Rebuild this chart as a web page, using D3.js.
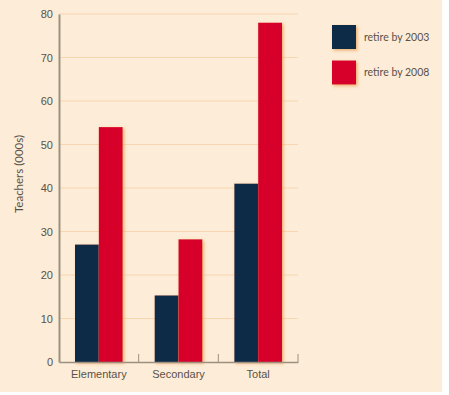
<!DOCTYPE html>
<html>
<head>
<meta charset="utf-8">
<script src="https://cdn.jsdelivr.net/npm/d3@7"></script>
<style>
  body { margin: 0; background: #fff; }
  svg { display: block; font-family: Lato, "Open Sans", sans-serif; }
</style>
</head>
<body>
<script>
var categories = ['Elementary', 'Secondary', 'Total'];
var seriesNames = ['retire by 2003', 'retire by 2008'];
var retire2003 = [27, 15.3, 41];
var retire2008 = [54, 28.2, 78];
var yTicks = [0, 10, 20, 30, 40, 50, 60, 70, 80];
var colors = ['#0b2c47', '#d6002a'];

var width = 449, height = 395;
var margin = {left: 59, right: 151, top: 14, bottom: 33};

var svg = d3.select('body').append('svg')
  .attr('width', width)
  .attr('height', height);

var defs = svg.append('defs');
var f = defs.append('filter').attr('id', 'shadow')
  .attr('x', '-20%').attr('y', '-10%').attr('width', '150%').attr('height', '130%');
f.append('feDropShadow')
  .attr('dx', 1.5).attr('dy', 1.5).attr('stdDeviation', 1.5)
  .attr('flood-color', '#e07a20').attr('flood-opacity', 0.55);

// panel
svg.append('rect')
  .attr('x', 0).attr('y', 0)
  .attr('width', 442).attr('height', 392)
  .attr('fill', '#fdecd7');

var x = d3.scaleBand()
  .domain(categories)
  .range([margin.left, width - margin.right])
  .padding(0);

var y = d3.scaleLinear()
  .domain([0, 80])
  .range([height - margin.bottom, margin.top]);

var inner = d3.scaleBand()
  .domain([0, 1])
  .range([16, x.bandwidth() - 16]);

// gridlines
svg.append('g').selectAll('line')
  .data(yTicks.filter(d => d > 0))
  .enter().append('line')
  .attr('x1', margin.left).attr('x2', width - margin.right)
  .attr('y1', d => y(d)).attr('y2', d => y(d))
  .attr('stroke', '#f8d6b0')
  .attr('stroke-width', 1);

// bars
var rows = categories.map((c, i) => ({cat: c, vals: [retire2003[i], retire2008[i]]}));
var groups = svg.append('g').selectAll('g')
  .data(rows)
  .enter().append('g')
  .attr('transform', d => 'translate(' + x(d.cat) + ',0)');

groups.selectAll('rect')
  .data(d => d.vals.map((v, k) => ({k: k, v: v})))
  .enter().append('rect')
  .attr('x', d => inner(d.k))
  .attr('width', inner.bandwidth())
  .attr('y', d => y(d.v))
  .attr('height', d => y(0) - y(d.v))
  .attr('fill', d => colors[d.k])
  .attr('filter', 'url(#shadow)');

// y axis
var yAxis = svg.append('g')
  .attr('transform', 'translate(' + margin.left + ',0)')
  .call(d3.axisLeft(y).tickValues(yTicks).tickSize(0).tickPadding(6));
yAxis.select('.domain').attr('stroke', '#9c9181').attr('stroke-width', 2);
yAxis.selectAll('text').attr('fill', '#5a5248').attr('font-size', 11);

// x axis
var xAxis = svg.append('g')
  .attr('transform', 'translate(0,' + y(0) + ')')
  .call(d3.axisBottom(x).tickSize(0).tickPadding(8));
xAxis.select('.domain').attr('stroke', '#9c9181').attr('stroke-width', 1.5);
xAxis.selectAll('text').attr('fill', '#5a5248').attr('font-size', 11);

// category separators
svg.append('g').selectAll('line')
  .data(categories)
  .enter().append('line')
  .attr('x1', d => x(d) + x.bandwidth()).attr('x2', d => x(d) + x.bandwidth())
  .attr('y1', y(0)).attr('y2', y(0) - 8)
  .attr('stroke', '#9c9181')
  .attr('stroke-width', 1);

// y label
svg.append('text')
  .attr('transform', 'translate(23,174) rotate(-90)')
  .attr('text-anchor', 'middle')
  .attr('fill', '#5a5248')
  .attr('font-size', 11.5)
  .text('Teachers (000s)');

// legend
var legend = svg.append('g').selectAll('g')
  .data(seriesNames)
  .enter().append('g')
  .attr('transform', (d, i) => 'translate(332,' + (25 + i * 35.5) + ')');
legend.append('rect')
  .attr('width', 24).attr('height', 24)
  .attr('fill', (d, i) => colors[i])
  .attr('filter', 'url(#shadow)');
legend.append('text')
  .attr('x', 32).attr('y', 12).attr('dy', '0.35em')
  .attr('fill', '#5a5248')
  .attr('font-size', 10.5)
  .text(d => d);
</script>
</body>
</html>
